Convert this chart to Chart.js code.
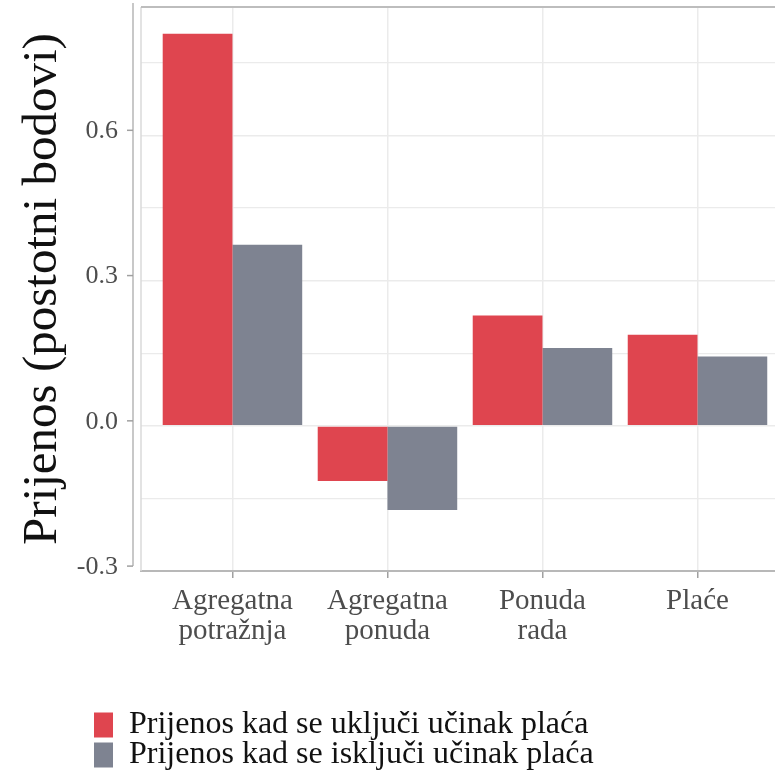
<!DOCTYPE html>
<html>
<head>
<meta charset="utf-8">
<script src="https://cdn.jsdelivr.net/npm/chart.js@4.4.1/dist/chart.umd.min.js"></script>
<style>
  html, body { margin: 0; padding: 0; background: #fff; overflow: hidden; }
  #wrap { width: 775px; height: 774px; }
</style>
</head>
<body>
<div id="wrap"><canvas id="chart"></canvas></div>
<script>
const categories = [['Agregatna', 'potražnja'], ['Agregatna', 'ponuda'], ['Ponuda', 'rada'], ['Plaće']];
const seriesNames = ['Prijenos kad se uključi učinak plaća', 'Prijenos kad se isključi učinak plaća'];
const withWages = [0.81, -0.114, 0.228, 0.188];
const withoutWages = [0.374, -0.174, 0.161, 0.143];
const yTicks = [-0.3, 0.0, 0.3, 0.6];
const yGrid = [-0.3, -0.15, 0.0, 0.15, 0.3, 0.45, 0.6, 0.75];

const serif = 'Liberation Serif';

function toPoints(values) {
    return values.map((v, i) => ({ x: i + 1, y: v }));
}

// panel border (left/top) and the detached y axis line with its ticks
const panelFrame = {
    id: 'panelFrame',
    beforeDatasetsDraw(chart) {
        const { ctx, chartArea } = chart;
        const y = chart.scales.y;
        ctx.save();
        ctx.strokeStyle = '#dadada';
        ctx.lineWidth = 1.5;
        ctx.beginPath();
        ctx.moveTo(chartArea.left, chartArea.bottom);
        ctx.lineTo(chartArea.left, chartArea.top);
        ctx.stroke();
        ctx.strokeStyle = '#bdbdbd';
        ctx.lineWidth = 2;
        ctx.beginPath();
        ctx.moveTo(chartArea.left, chartArea.top);
        ctx.lineTo(chartArea.right, chartArea.top);
        ctx.stroke();

        const ax = chartArea.left - 8;
        ctx.strokeStyle = '#c8c8c8';
        ctx.lineWidth = 2;
        ctx.beginPath();
        ctx.moveTo(ax, chartArea.top - 4);
        ctx.lineTo(ax, y.getPixelForValue(-0.3) - 5);
        ctx.stroke();
        ctx.strokeStyle = '#a0a0a0';
        ctx.lineWidth = 1.5;
        yTicks.forEach(v => {
            const py = y.getPixelForValue(v) - 5;
            ctx.beginPath();
            ctx.moveTo(ax - 6, py);
            ctx.lineTo(ax, py);
            ctx.stroke();
        });
        ctx.restore();
    },
    afterLayout(chart) {
        chart.legend.left += 94;
        chart.legend.right += 94;
        chart.legend.top += 10;
        chart.legend.bottom += 10;
    }
};

const ctx = document.getElementById('chart').getContext('2d');

new Chart(ctx, {
    type: 'bar',
    data: {
        datasets: [{
            label: seriesNames[0],
            data: toPoints(withWages),
            backgroundColor: '#df454f',
            borderWidth: 0
        }, {
            label: seriesNames[1],
            data: toPoints(withoutWages),
            backgroundColor: '#7e8391',
            borderWidth: 0
        }]
    },
    options: {
        responsive: true,
        maintainAspectRatio: false,
        animation: false,
        categoryPercentage: 0.9,
        barPercentage: 1.0,
        layout: { padding: { top: 7, right: 0, bottom: 3, left: 0 } },
        plugins: {
            tooltip: { enabled: false },
            legend: {
                position: 'bottom',
                align: 'start',
                labels: {
                    boxWidth: 21,
                    boxHeight: 25,
                    padding: -2,
                    color: '#111111',
                    font: { family: serif, size: 32 }
                }
            }
        },
        scales: {
            x: {
                type: 'linear',
                offset: false,
                min: 0.41,
                max: 4.5,
                afterBuildTicks: s => { s.ticks = categories.map((c, i) => ({ value: i + 1 })); },
                afterFit: s => { s.height += 46; s.paddingLeft = 0; s.paddingRight = 0; },
                ticks: {
                    callback: v => categories[v - 1],
                    autoSkip: false,
                    maxRotation: 0,
                    padding: 8,
                    color: '#4d4d4d',
                    font: { family: serif, size: 29, lineHeight: 1.05 }
                },
                grid: {
                    offset: false,
                    color: '#ebebeb',
                    lineWidth: 1.5,
                    tickLength: 7,
                    tickColor: '#a0a0a0',
                    tickWidth: 1.5
                },
                border: { display: true, color: '#b8b8b8', width: 2 }
            },
            y: {
                min: -0.3,
                max: 0.865,
                afterBuildTicks: s => { s.ticks = yGrid.map(v => ({ value: v })); },
                afterFit: s => { s.width = 141; s.paddingTop = 0; s.paddingBottom = 0; },
                ticks: {
                    callback: v => yTicks.includes(v) ? v.toFixed(1) : '',
                    padding: 23,
                    labelOffset: -4,
                    color: '#4d4d4d',
                    font: { family: serif, size: 26 }
                },
                grid: {
                    color: '#ebebeb',
                    lineWidth: c => yTicks.includes(c.tick.value) ? 1.6 : 1.2,
                    drawTicks: false
                },
                border: { display: false },
                title: {
                    display: true,
                    text: 'Prijenos (postotni bodovi)',
                    color: '#111111',
                    font: { family: serif, size: 49 },
                    padding: { top: 14, bottom: 0 }
                }
            }
        }
    },
    plugins: [panelFrame]
});
</script>
</body>
</html>
